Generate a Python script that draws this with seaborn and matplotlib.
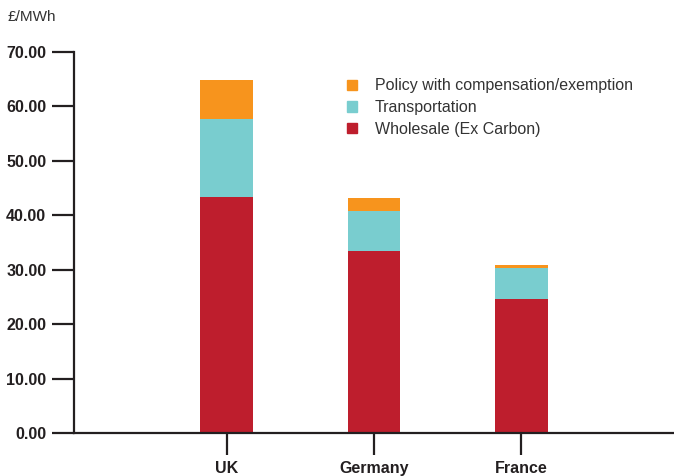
import pandas as pd
import matplotlib
matplotlib.use("Agg")
import matplotlib.pyplot as plt
from matplotlib.patches import Patch
import seaborn as sns

# Datos (£/MWh)
countries = ["UK", "Germany", "France"]
wholesale = [43.3, 33.5, 24.7]
transport = [14.3, 7.3, 5.7]
policy = [7.3, 2.4, 0.5]

series_labels = ["Policy with compensation/exemption", "Transportation", "Wholesale (Ex Carbon)"]
yticks = [0, 10, 20, 30, 40, 50, 60, 70]

c_wholesale = "#BE1E2D"
c_transport = "#79CDCF"
c_policy = "#F7941D"
c_axis = "#231F20"

df = pd.DataFrame({"country": countries, "wholesale": wholesale,
                   "transport": transport, "policy": policy})
df["t_transport"] = df["wholesale"] + df["transport"]
df["t_policy"] = df["t_transport"] + df["policy"]

sns.set_style("white")
plt.rcParams["font.family"] = ["Liberation Sans", "DejaVu Sans"]

fig = plt.figure(figsize=(6.74, 4.76), dpi=100)
ax = fig.add_axes([74 / 674, 43 / 476, 600 / 674, 381 / 476])

# barras apiladas: se dibujan los totales acumulados uno encima de otro
w = 0.36
sns.barplot(data=df, x="country", y="t_policy", color=c_policy, width=w, ax=ax,
            saturation=1, linewidth=0)
sns.barplot(data=df, x="country", y="t_transport", color=c_transport, width=w, ax=ax,
            saturation=1, linewidth=0)
sns.barplot(data=df, x="country", y="wholesale", color=c_wholesale, width=w, ax=ax,
            saturation=1, linewidth=0)

ax.set_xlim(-1.04, 3.04)
ax.set_ylim(0, 70)
ax.set_yticks(yticks)
ax.set_yticklabels([f"{v:.2f}" for v in yticks])
ax.set_xlabel("")
ax.set_ylabel("")

for s in ["top", "right"]:
    ax.spines[s].set_visible(False)
for s in ["left", "bottom"]:
    ax.spines[s].set_color(c_axis)
    ax.spines[s].set_linewidth(1.6)

ax.tick_params(axis="both", direction="out", length=16, width=1.6, color=c_axis,
               labelcolor=c_axis, labelsize=11.5, pad=4, bottom=True, left=True)
for lbl in ax.get_yticklabels() + ax.get_xticklabels():
    lbl.set_fontweight("bold")

fig.text(8 / 674, 1 - 17 / 476, "£/MWh", fontsize=11, color="#333333", va="center", ha="left")

handles = [Patch(color=c_policy), Patch(color=c_transport), Patch(color=c_wholesale)]
fig.legend(handles, series_labels, loc="upper left", bbox_to_anchor=(333 / 674, 1 - 64 / 476),
           frameon=False, fontsize=11.5, handlelength=0.62, handleheight=0.62,
           handletextpad=1.1, labelspacing=0.42, labelcolor="#333333")

plt.savefig("out.png", dpi=100)
